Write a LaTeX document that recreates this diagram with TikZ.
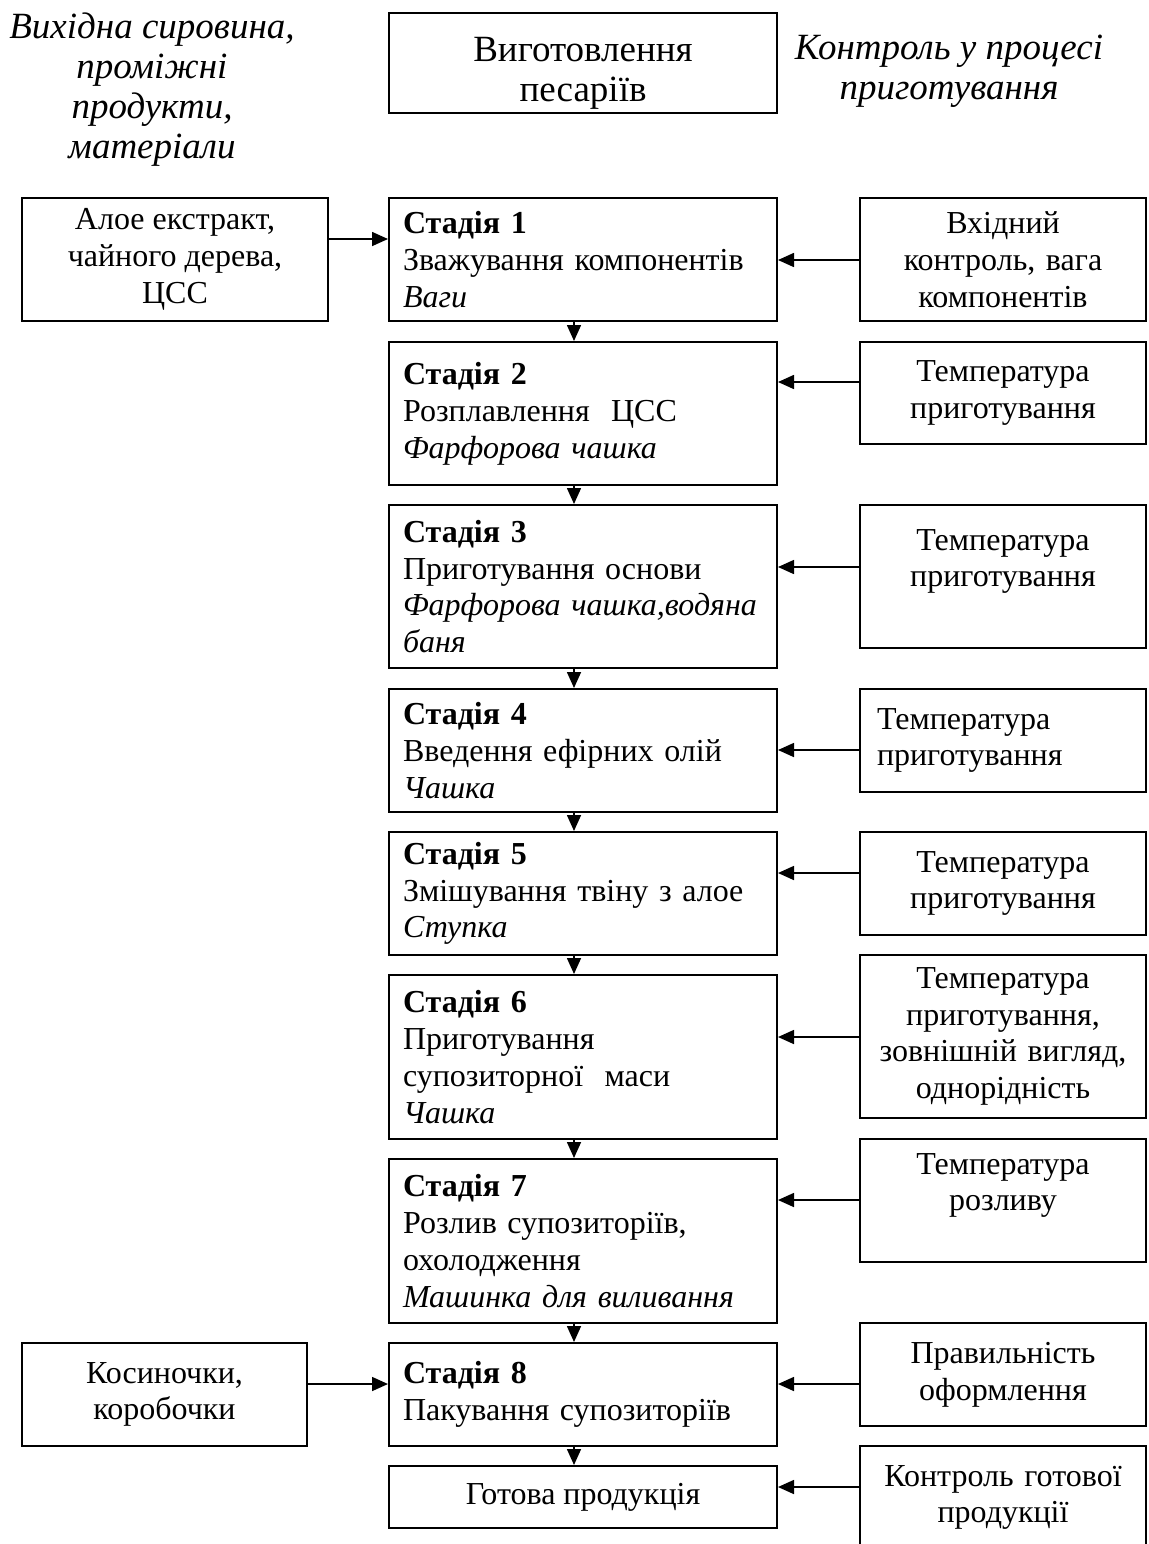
\documentclass[tikz,border=0pt]{standalone}
\usepackage{fontspec}
\setmainfont{Liberation Serif}
\usetikzlibrary{arrows.meta}

\newcommand{\fs}{\fontsize{16}{18.4}\selectfont}
\newcommand{\fh}{\fontsize{18.5}{20}\selectfont}

\tikzset{
  box/.style={draw, line width=1pt, inner sep=0pt, font=\fs},
  stagebox/.style={box, text width=180pt, inner xsep=7pt, align=left, minimum width=194pt},
  ctrlbox/.style={box, text width=143pt, align=center, minimum width=143pt},
  arr/.style={-{Triangle[length=8pt,width=7pt]}, line width=0.8pt}
}

\begin{document}
\begin{tikzpicture}[x=0.5pt, y=-0.5pt]
  \useasboundingbox (0,0) rectangle (1148,1544);

  % headers
  \node[font=\fh\itshape, align=center] (lhead) at (152,90) {Вихідна сировина,\\проміжні\\продукти,\\матеріали};
  \node[box, font=\fh, minimum width=194pt, minimum height=50pt] (top) at (583,63)
    {\raisebox{-5pt}[\height][\depth]{\begin{tabular}{@{}c@{}}Виготовлення\\песаріїв\end{tabular}}};
  \node[font=\fh\itshape, align=center] (rhead) at (949,71) {Контроль у процесі\\приготування};

  % stages
  \node[stagebox, minimum height=61.5pt] (s1) at (583,259.5) {\textbf{Стадія 1}\\Зважування компонентів\\\textit{Ваги}};
  \node[stagebox, minimum height=71.5pt] (s2) at (583,413.5) {\textbf{Стадія 2}\\Розплавлення~ ЦСС\\\textit{Фарфорова чашка}};
  \node[stagebox, minimum height=81.5pt] (s3) at (583,586.5) {\textbf{Стадія 3}\\Приготування основи\\\textit{Фарфорова чашка,водяна}\\\textit{баня}};
  \node[stagebox, minimum height=61.5pt] (s4) at (583,750.5) {\textbf{Стадія 4}\\Введення ефірних олій\\\textit{Чашка}};
  \node[stagebox, minimum height=61.5pt] (s5) at (583,893.5) {\textbf{Стадія 5}\\Змішування твіну з алое\\\textit{Ступка}};
  \node[stagebox, minimum height=82pt] (s6) at (583,1057) {\textbf{Стадія 6}\\Приготування\\супозиторної~ маси\\\textit{Чашка}};
  \node[stagebox, minimum height=82pt] (s7) at (583,1241) {\textbf{Стадія 7}\\Розлив супозиторіїв,\\охолодження\\\textit{Машинка для виливання}};
  \node[stagebox, minimum height=51.5pt] (s8) at (583,1394.5) {\textbf{Стадія 8}\\Пакування супозиторіїв};
  \node[box, align=center, minimum width=194pt, minimum height=31pt] (fin) at (583,1497) {Готова продукція};

  % inputs
  \node[box, align=center, minimum width=153pt, minimum height=61.5pt] (l1) at (175,259.5) {Алое екстракт,\\чайного дерева,\\ЦСС};
  \node[box, align=center, minimum width=142.5pt, minimum height=51.5pt] (l2) at (164.5,1394.5) {Косиночки,\\коробочки};

  % control
  \node[ctrlbox, minimum height=61.5pt] (r1) at (1003,259.5) {Вхідний\\контроль, вага\\компонентів};
  \node[ctrlbox, minimum height=51pt] (r2) at (1003,393) {Температура\\приготування};
  \node[ctrlbox, minimum height=71.5pt] (r3) at (1003,576.5) {Температура\\приготування\\\mbox{}};
  \node[box, text width=126pt, inner xsep=8.5pt, align=left, minimum width=143pt, minimum height=51.5pt] (r4) at (1003,740.5) {Температура\\приготування};
  \node[ctrlbox, minimum height=51.5pt] (r5) at (1003,883.5) {Температура\\приготування};
  \node[ctrlbox, minimum height=81.5pt] (r6) at (1003,1036.5) {Температура\\приготування,\\зовнішній вигляд,\\однорідність};
  \node[ctrlbox, minimum height=61.5pt] (r7) at (1003,1200.5) {Температура\\розливу\\\mbox{}};
  \node[ctrlbox, minimum height=51.5pt] (r8) at (1003,1374.5) {Правильність\\оформлення};
  \node[ctrlbox, minimum height=52pt] (r9) at (1003,1497.5) {Контроль готової\\продукції};

  % arrows down the stages
  \coordinate (col) at (574,0);
  \foreach \a/\b in {s1/s2, s2/s3, s3/s4, s4/s5, s5/s6, s6/s7, s7/s8, s8/fin}
    \draw[arr] (\a.south -| col) -- (\b.north -| col);

  % arrows from control boxes
  \foreach \r/\s/\y in {r1/s1/260, r2/s2/382, r3/s3/567, r4/s4/750, r5/s5/873, r6/s6/1037, r7/s7/1200, r8/s8/1384, r9/fin/1487} {
    \coordinate (p) at (0,\y);
    \draw[arr] (\r.west |- p) -- (\s.east |- p);
  }

  % arrows from inputs
  \coordinate (q1) at (0,239);
  \coordinate (q2) at (0,1384);
  \draw[arr] (l1.east |- q1) -- (s1.west |- q1);
  \draw[arr] (l2.east |- q2) -- (s8.west |- q2);
\end{tikzpicture}
\end{document}
